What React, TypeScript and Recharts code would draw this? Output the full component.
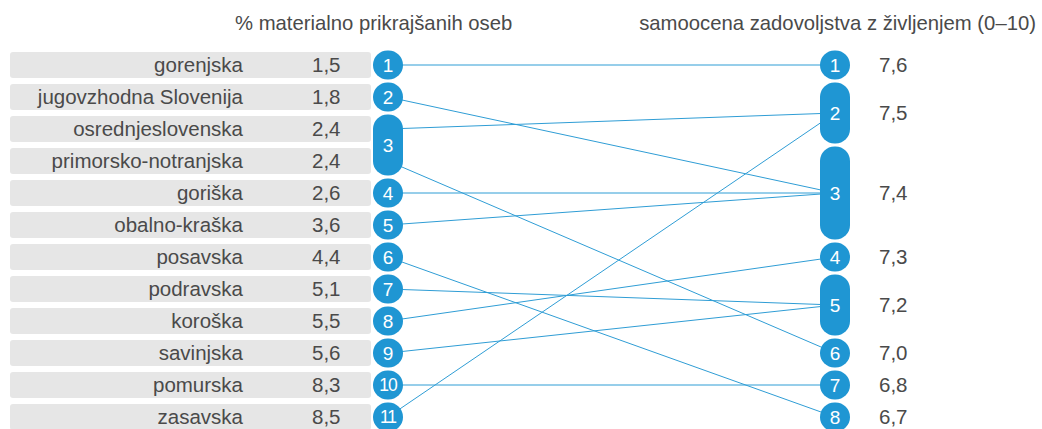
import { ComposedChart, Scatter, XAxis, YAxis } from 'recharts'

const regions = [
  'gorenjska',
  'jugovzhodna Slovenija',
  'osrednjeslovenska',
  'primorsko-notranjska',
  'goriška',
  'obalno-kraška',
  'posavska',
  'podravska',
  'koroška',
  'savinjska',
  'pomurska',
  'zasavska',
]
// % materialno prikrajšanih oseb
const deprivation = [1.5, 1.8, 2.4, 2.4, 2.6, 3.6, 4.4, 5.1, 5.5, 5.6, 8.3, 8.5]
// samoocena zadovoljstva z življenjem (0–10)
const satisfaction = [7.6, 7.4, 7.5, 7.0, 7.4, 7.4, 6.7, 7.2, 7.3, 7.2, 6.8, 7.5]

const W = 1042
const H = 429
const ROW_PX = 32
const FIRST_ROW_PX = 65
const LEFT_X = 388
const RIGHT_X = 835
const BLUE = '#1f96d3'
const LINE = '#2f9dd5'
const TEXT = '#4a4a4a'
const FONT = '"Liberation Sans", Arial, Helvetica, sans-serif'

const fmt = (v: number) => v.toFixed(1).replace('.', ',')

type Group = { rank: number; value: number; start: number; end: number; center: number; members: number[] }

// rank regions by value, ties share one rank and one badge
function rankGroups(values: number[], desc: boolean): Group[] {
  const order = values.map((_, i) => i).sort((a, b) => (desc ? values[b] - values[a] : values[a] - values[b]))
  const groups: Group[] = []
  order.forEach((idx, row) => {
    const last = groups[groups.length - 1]
    if (last && last.value === values[idx]) {
      last.end = row
      last.members.push(idx)
    } else {
      groups.push({ rank: groups.length + 1, value: values[idx], start: row, end: row, center: row, members: [idx] })
    }
  })
  groups.forEach((g) => (g.center = (g.start + g.end) / 2))
  return groups
}

const leftOrder = deprivation.map((_, k) => k).sort((a, b) => deprivation[a] - deprivation[b])
const leftGroups = rankGroups(deprivation, false)
const rightGroups = rankGroups(satisfaction, true)
const rightCenterOf = (i: number) => rightGroups.find((g) => g.members.includes(i))!.center

const links = regions.map((_, i) => [
  { x: LEFT_X, y: leftOrder.indexOf(i) },
  { x: RIGHT_X, y: rightCenterOf(i) },
])

const leftBadges = leftGroups.map((g) => ({ x: LEFT_X, y: g.center, span: g.end - g.start + 1, rank: g.rank }))
const rightBadges = rightGroups.map((g) => ({ x: RIGHT_X, y: g.center, span: g.end - g.start + 1, rank: g.rank }))

const leftRows = leftOrder.map((i, row) => ({ x: LEFT_X, y: row, name: regions[i], value: deprivation[i] }))
const rightRows = rightGroups.map((g) => ({ x: RIGHT_X, y: g.center, value: g.value }))

const yDomain = [-FIRST_ROW_PX / ROW_PX, (H - FIRST_ROW_PX) / ROW_PX]

function Badge(props: any) {
  const { cx, cy, payload } = props
  const w = 30
  const h = (payload.span - 1) * ROW_PX + 29
  const two = payload.rank >= 10
  return (
    <g>
      <rect x={cx - w / 2} y={cy - h / 2} width={w} height={h} rx={14.5} ry={14.5} fill={BLUE} />
      <text
        x={cx}
        y={cy}
        dy="0.36em"
        textAnchor="middle"
        fill="#fff"
        fontSize={two ? 17.5 : 19}
        fontFamily={FONT}
        letterSpacing={two ? -1 : 0}
      >
        {payload.rank}
      </text>
    </g>
  )
}

// grey row band with region name and value, positioned from the badge column
function RegionRow(props: any) {
  const { cx, cy, payload } = props
  return (
    <g>
      <rect x={cx - 378} y={cy - 13} width={361} height={26} rx={3} ry={3} fill="#e6e6e6" />
      <text x={cx - 145} y={cy} dy="0.35em" textAnchor="end" fill={TEXT} fontSize={20.5} fontFamily={FONT}>
        {payload.name}
      </text>
      <text x={cx - 76} y={cy} dy="0.35em" textAnchor="start" fill={TEXT} fontSize={20.5} fontFamily={FONT}>
        {fmt(payload.value)}
      </text>
    </g>
  )
}

function SatisfactionLabel(props: any) {
  const { cx, cy, payload } = props
  return (
    <text x={cx + 44} y={cy} dy="0.35em" textAnchor="start" fill={TEXT} fontSize={20.5} fontFamily={FONT}>
      {fmt(payload.value)}
    </text>
  )
}

export default function App() {
  return (
    <div style={{ position: 'absolute', left: 0, top: 0, width: W, height: H, background: '#fff' }}>
      <ComposedChart width={W} height={H} margin={{ top: 0, right: 0, bottom: 0, left: 0 }}>
        <XAxis type="number" dataKey="x" domain={[0, W]} allowDataOverflow hide />
        <YAxis type="number" dataKey="y" domain={yDomain} allowDataOverflow reversed hide />
        <Scatter data={leftRows} shape={<RegionRow />} isAnimationActive={false} />
        {links.map((pts, i) => (
          <Scatter
            key={'l' + i}
            data={pts}
            line={{ stroke: LINE, strokeWidth: 1 }}
            lineType="joint"
            shape={() => <g />}
            isAnimationActive={false}
          />
        ))}
        <Scatter data={leftBadges} shape={<Badge />} isAnimationActive={false} />
        <Scatter data={rightBadges} shape={<Badge />} isAnimationActive={false} />
        <Scatter data={rightRows} shape={<SatisfactionLabel />} isAnimationActive={false} />
        <text x={235} y={30} fill={TEXT} fontSize={20.3} fontFamily={FONT}>
          % materialno prikrajšanih oseb
        </text>
        <text x={1036} y={30} textAnchor="end" fill={TEXT} fontSize={20.3} fontFamily={FONT}>
          samoocena zadovoljstva z življenjem (0–10)
        </text>
      </ComposedChart>
    </div>
  )
}
